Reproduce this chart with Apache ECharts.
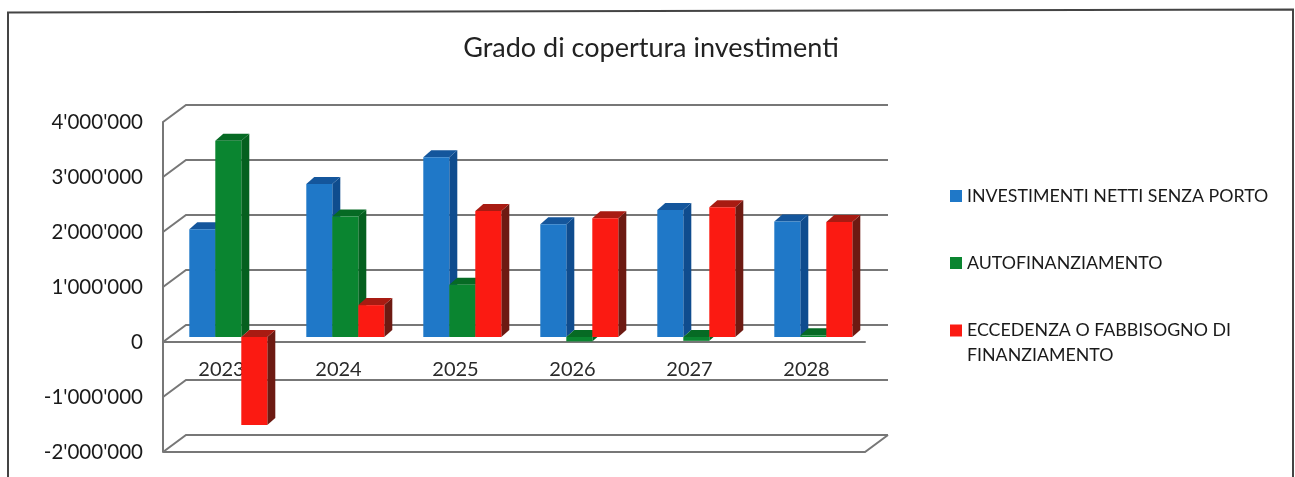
<!DOCTYPE html>
<html>
<head>
<meta charset="utf-8">
<style>html,body{margin:0;padding:0;background:#fff}#c{width:1295px;height:477px}</style>
<script src="https://cdn.jsdelivr.net/npm/echarts@6/dist/echarts.min.js"></script>
</head>
<body>
<div id="c"></div>
<script>
const years = ['2023','2024','2025','2026','2027','2028'];
const investimenti = [1960000,2780000,3270000,2050000,2310000,2100000];
const autofinanziamento = [3570000,2190000,950000,-80000,-70000,30000];
const eccedenza = [-1600000,580000,2290000,2160000,2360000,2090000];
const yTicks = [-2000000,-1000000,0,1000000,2000000,3000000,4000000];
const nameA = 'INVESTIMENTI NETTI SENZA PORTO';
const nameB = 'AUTOFINANZIAMENTO';
const nameC = 'ECCEDENZA O FABBISOGNO DI\nFINANZIAMENTO';
const FONT = 'Lato';
const GRAY = '#777777';
const WALL = [23, -17];
const SHIFT = [6.8, -5];
const DEPTH = [8, -7];
const BAR_W = 26 / 117;

function bar3d(slot, front, top, side) {
  return function (params, api) {
    const cat = api.value(0), val = api.value(1);
    const band = api.size([1, 0])[0];
    const w = band * BAR_W;
    const c0 = api.coord([cat, 0]);
    const c1 = api.coord([cat, val]);
    const x0 = c0[0] - 1.5 * w + SHIFT[0] + w * slot;
    const x1 = x0 + w;
    const yb = c0[1] + SHIFT[1];
    const yv = c1[1] + SHIFT[1];
    const yTop = Math.min(yb, yv), yBot = Math.max(yb, yv);
    const dx = DEPTH[0], dy = DEPTH[1];
    return {
      type: 'group',
      children: [
        { type: 'polygon', shape: { points: [[x1, yTop], [x1 + dx, yTop + dy], [x1 + dx, yBot + dy], [x1, yBot]] }, style: { fill: side } },
        { type: 'polygon', shape: { points: [[x0, yTop], [x0 + dx, yTop + dy], [x1 + dx, yTop + dy], [x1, yTop]] }, style: { fill: top } },
        { type: 'rect', shape: { x: x0, y: yTop, width: w, height: yBot - yTop }, style: { fill: front } }
      ]
    };
  };
}

function wallLine(params, api) {
  const cs = params.coordSys;
  const y = api.coord([0, api.value(1)])[1], xl = cs.x, xr = cs.x + cs.width;
  return {
    type: 'polyline',
    shape: { points: [[xl, y], [xl + WALL[0], y + WALL[1]], [xr + WALL[0], y + WALL[1]]] },
    style: { stroke: GRAY, lineWidth: 2, fill: null }
  };
}
function floorLine(params, api) {
  const cs = params.coordSys;
  const y = api.coord([0, api.value(1)])[1], xl = cs.x, xr = cs.x + cs.width;
  return {
    type: 'polyline',
    shape: { points: [[xl, y], [xr, y], [xr + WALL[0], y + WALL[1]]] },
    style: { stroke: GRAY, lineWidth: 2, fill: null }
  };
}
const pairs = arr => arr.map((v, i) => [i, v]);
const legendText = { fontFamily: FONT, fontSize: 17.8, color: '#1a1a1a' };

const chart = echarts.init(document.getElementById('c'), null, { renderer: 'canvas' });
chart.setOption({
  animation: false,
  backgroundColor: '#ffffff',
  title: {
    text: 'Grado di copertura investimenti',
    left: 646, top: 30, textAlign: 'center',
    textStyle: { fontFamily: FONT, fontSize: 27, fontWeight: 'normal', color: '#222' }
  },
  legend: [
    { data: [nameA], orient: 'vertical', padding: 0, left: 950, top: 187, itemWidth: 12, itemHeight: 12, icon: 'rect', textStyle: legendText },
    { data: [nameB], orient: 'vertical', padding: 0, left: 950, top: 254, itemWidth: 12, itemHeight: 12, icon: 'rect', textStyle: legendText },
    { data: [nameC], orient: 'vertical', padding: 0, left: 950, top: 318, itemWidth: 12, itemHeight: 37, icon: 'path://M0 0H12V12H0ZM0 37H0', textStyle: Object.assign({ lineHeight: 25 }, legendText) }
  ],
  grid: { left: 163, right: 430, top: 122, bottom: 25, containLabel: false, outerBoundsMode: 'none' },
  xAxis: {
    type: 'category', data: years, position: 'bottom', offset: -110,
    axisLine: { show: true, onZero: false, lineStyle: { color: GRAY, width: 2 } },
    axisTick: { show: false },
    splitLine: { show: false },
    axisLabel: { fontFamily: FONT, fontSize: 20, color: '#2a2a2a', margin: 18 }
  },
  yAxis: {
    type: 'value', min: -2000000, max: 4000000, interval: 1000000,
    axisLine: { show: true, lineStyle: { color: GRAY, width: 2 } },
    axisTick: { show: false },
    splitLine: { show: false },
    axisLabel: {
      fontFamily: FONT, fontSize: 20.5, color: '#1a1a1a', margin: 20,
      formatter: v => String(v).replace(/\B(?=(\d{3})+(?!\d))/g, "'")
    }
  },
  series: [
    { name: 'griglia', type: 'custom', clip: false, silent: true, z: 1, renderItem: wallLine, data: pairs(yTicks), encode: { x: 0, y: 1 } },
    { name: 'base', type: 'custom', clip: false, silent: true, z: 1, renderItem: floorLine, data: [[0, -2000000]], encode: { x: 0, y: 1 } },
    { name: nameA, type: 'custom', clip: false, z: 3, itemStyle: { color: '#1f78c8' }, renderItem: bar3d(0, '#1f78c8', '#14569c', '#0f4c8e'), data: pairs(investimenti), encode: { x: 0, y: 1 } },
    { name: nameB, type: 'custom', clip: false, z: 3, itemStyle: { color: '#0a8530' }, renderItem: bar3d(1, '#0a8530', '#066a24', '#05601f'), data: pairs(autofinanziamento), encode: { x: 0, y: 1 } },
    { name: nameC, type: 'custom', clip: false, z: 3, itemStyle: { color: '#fb1a12' }, renderItem: bar3d(2, '#fb1a12', '#a81b12', '#6d1a12'), data: pairs(eccedenza), encode: { x: 0, y: 1 } }
  ],
  graphic: [
    { type: 'polyline', silent: true, shape: { points: [[8, 477], [8, 12.5], [1293, 9.5], [1293, 477]] }, style: { stroke: '#444', lineWidth: 2, fill: null } }
  ]
});
</script>
</body>
</html>
